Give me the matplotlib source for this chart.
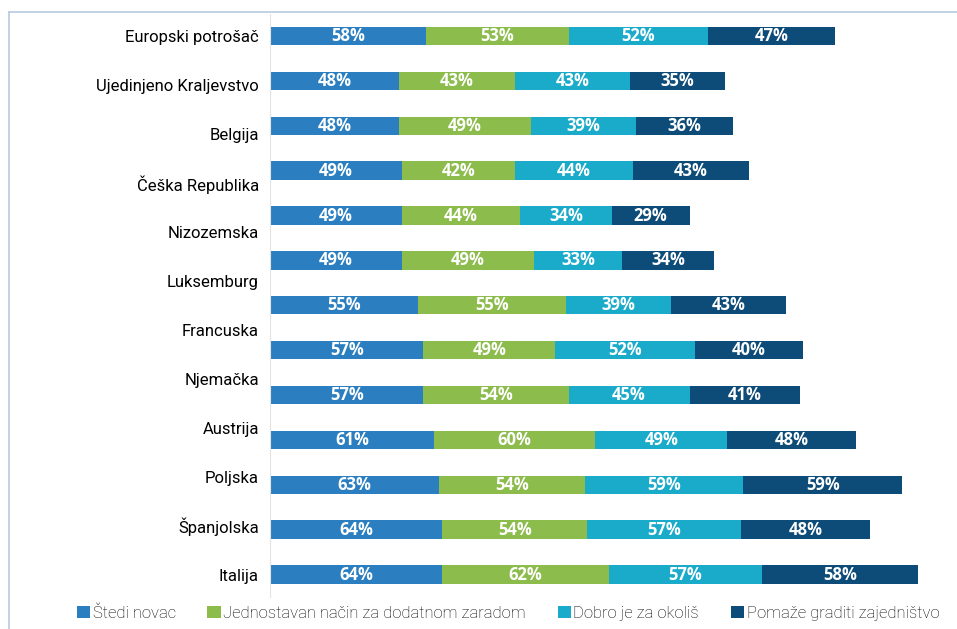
import numpy as np
import matplotlib
matplotlib.use('Agg')
import matplotlib.pyplot as plt
from matplotlib.patches import Patch
from matplotlib.lines import Line2D

# category labels (12) - the source chart has 13 bars
labels = ['Europski potrošač', 'Ujedinjeno Kraljevstvo', 'Belgija', 'Češka Republika',
          'Nizozemska', 'Luksemburg', 'Francuska', 'Njemačka', 'Austrija',
          'Poljska', 'Španjolska', 'Italija']

series_names = ['Štedi novac', 'Jednostavan način za dodatnom zaradom',
                'Dobro je za okoliš', 'Pomaže graditi zajedništvo']

stedi = [58, 48, 48, 49, 49, 49, 55, 57, 57, 61, 63, 64, 64]
zarada = [53, 43, 49, 42, 44, 49, 55, 49, 54, 60, 54, 54, 62]
okolis = [52, 43, 39, 44, 34, 33, 39, 52, 45, 49, 59, 57, 57]
zajednistvo = [47, 35, 36, 43, 29, 34, 43, 40, 41, 48, 59, 48, 58]

colors = ['#2b7fc1', '#8cbc4b', '#1babca', '#0d4b78']

fig = plt.figure(figsize=(9.57, 6.29), dpi=100)
W, H = 957, 629
ax = fig.add_axes([270 / W, 1 - 597 / H, (950 - 270) / W, (597 - 14) / H])

y = np.arange(len(stedi))
left = np.zeros(len(stedi))
for vals, col in zip([stedi, zarada, okolis, zajednistvo], colors):
    vals = np.array(vals)
    ax.barh(y, vals, left=left, height=0.41, color=col)
    for yi, l, v in zip(y, left, vals):
        ax.text(l + v / 2, yi, f'{v}%', ha='center', va='center', color='white',
                fontsize=12, fontweight='bold', family=['Open Sans', 'DejaVu Sans'])
    left = left + vals

ax.set_xlim(0, (950 - 270) / 2.69)
ax.set_ylim(12.5, -0.49)

# labels are spread evenly over the bar range (12 labels for 13 bars)
ax.set_yticks(np.linspace(0, len(stedi) - 1, len(labels)))
ax.set_yticklabels(labels, fontsize=12, family=['Roboto', 'DejaVu Sans'])
ax.tick_params(axis='y', length=0, pad=8)
ax.set_xticks([])
for s in ['top', 'right', 'bottom']:
    ax.spines[s].set_visible(False)
ax.spines['left'].set_color('#e3e3e3')

# light border around the picture
fig.add_artist(Line2D([9 / W, 1], [1 - 12 / H, 1 - 12 / H], color='#b9c9e2', lw=1.2))
fig.add_artist(Line2D([9 / W, 9 / W], [0, 1 - 12 / H], color='#b9c9e2', lw=1.2))

handles = [Patch(facecolor=c, label=n) for c, n in zip(colors, series_names)]
fig.legend(handles=handles, loc='center', bbox_to_anchor=(508 / W, 1 - 613 / H), ncol=4,
           frameon=False, handlelength=0.8, handleheight=0.8, handletextpad=0.15,
           columnspacing=1.9, prop={'family': ['Roboto', 'DejaVu Sans'], 'size': 12, 'weight': 'light'})

fig.savefig('out.png', dpi=100)
